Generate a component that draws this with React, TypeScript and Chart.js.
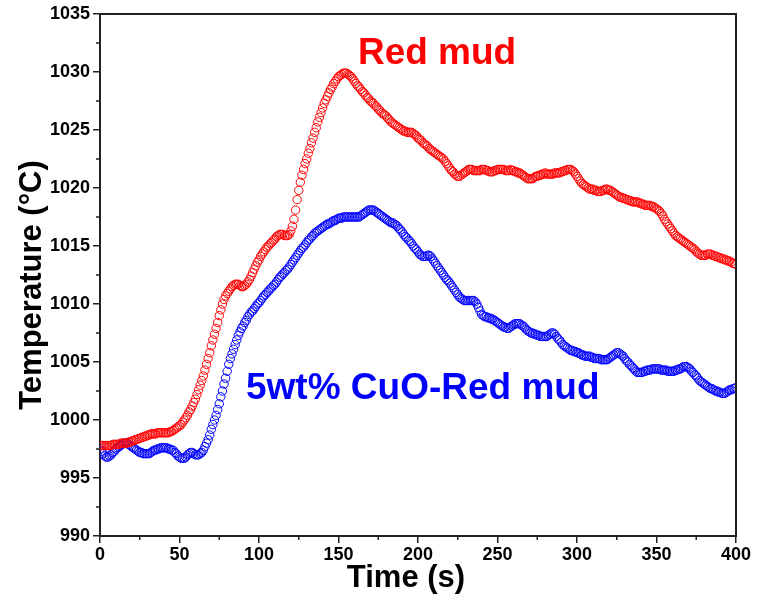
import React, { useEffect, useRef } from "react";
import { Chart, registerables } from "chart.js";

Chart.register(...registerables);

const TIME_S = [
  0, 1, 2, 3, 4, 5, 6, 7, 8, 9, 10, 11, 12, 13, 14, 15, 16, 17, 18, 19,
  20, 21, 22, 23, 24, 25, 26, 27, 28, 29, 30, 31, 32, 33, 34, 35, 36, 37, 38, 39,
  40, 41, 42, 43, 44, 45, 46, 47, 48, 49, 50, 51, 52, 53, 54, 55, 56, 57, 58, 59,
  60, 61, 62, 63, 64, 65, 66, 67, 68, 69, 70, 71, 72, 73, 74, 75, 76, 77, 78, 79,
  80, 81, 82, 83, 84, 85, 86, 87, 88, 89, 90, 91, 92, 93, 94, 95, 96, 97, 98, 99,
  100, 101, 102, 103, 104, 105, 106, 107, 108, 109, 110, 111, 112, 113, 114, 115, 116, 117, 118, 119,
  120, 121, 122, 123, 124, 125, 126, 127, 128, 129, 130, 131, 132, 133, 134, 135, 136, 137, 138, 139,
  140, 141, 142, 143, 144, 145, 146, 147, 148, 149, 150, 151, 152, 153, 154, 155, 156, 157, 158, 159,
  160, 161, 162, 163, 164, 165, 166, 167, 168, 169, 170, 171, 172, 173, 174, 175, 176, 177, 178, 179,
  180, 181, 182, 183, 184, 185, 186, 187, 188, 189, 190, 191, 192, 193, 194, 195, 196, 197, 198, 199,
  200, 201, 202, 203, 204, 205, 206, 207, 208, 209, 210, 211, 212, 213, 214, 215, 216, 217, 218, 219,
  220, 221, 222, 223, 224, 225, 226, 227, 228, 229, 230, 231, 232, 233, 234, 235, 236, 237, 238, 239,
  240, 241, 242, 243, 244, 245, 246, 247, 248, 249, 250, 251, 252, 253, 254, 255, 256, 257, 258, 259,
  260, 261, 262, 263, 264, 265, 266, 267, 268, 269, 270, 271, 272, 273, 274, 275, 276, 277, 278, 279,
  280, 281, 282, 283, 284, 285, 286, 287, 288, 289, 290, 291, 292, 293, 294, 295, 296, 297, 298, 299,
  300, 301, 302, 303, 304, 305, 306, 307, 308, 309, 310, 311, 312, 313, 314, 315, 316, 317, 318, 319,
  320, 321, 322, 323, 324, 325, 326, 327, 328, 329, 330, 331, 332, 333, 334, 335, 336, 337, 338, 339,
  340, 341, 342, 343, 344, 345, 346, 347, 348, 349, 350, 351, 352, 353, 354, 355, 356, 357, 358, 359,
  360, 361, 362, 363, 364, 365, 366, 367, 368, 369, 370, 371, 372, 373, 374, 375, 376, 377, 378, 379,
  380, 381, 382, 383, 384, 385, 386, 387, 388, 389, 390, 391, 392, 393, 394, 395, 396, 397, 398, 399,
  400,
];

const RED_MUD = [
  997.8, 997.8, 997.8, 997.8, 997.8, 997.8, 997.8, 997.8, 997.9, 997.9,
  997.9, 997.9, 997.9, 998.0, 998.0, 998.0, 998.0, 998.0, 998.1, 998.1,
  998.2, 998.2, 998.3, 998.3, 998.4, 998.4, 998.5, 998.5, 998.6, 998.6,
  998.7, 998.7, 998.8, 998.8, 998.8, 998.8, 998.9, 998.9, 998.9, 998.9,
  998.9, 998.9, 998.9, 998.9, 999.0, 999.0, 999.1, 999.2, 999.3, 999.4,
  999.5, 999.6, 999.8, 1000.0, 1000.2, 1000.4, 1000.7, 1000.9, 1001.2, 1001.5,
  1001.8, 1002.2, 1002.6, 1003.0, 1003.4, 1003.8, 1004.3, 1004.8, 1005.3, 1005.8,
  1006.4, 1006.9, 1007.4, 1007.9, 1008.4, 1009.0, 1009.5, 1010.0, 1010.4, 1010.7,
  1010.9, 1011.1, 1011.3, 1011.5, 1011.6, 1011.7, 1011.7, 1011.7, 1011.6, 1011.5,
  1011.5, 1011.6, 1011.7, 1011.9, 1012.1, 1012.4, 1012.7, 1013.0, 1013.3, 1013.6,
  1013.8, 1014.1, 1014.3, 1014.5, 1014.7, 1014.9, 1015.0, 1015.2, 1015.3, 1015.5,
  1015.6, 1015.8, 1015.9, 1016.0, 1016.0, 1016.0, 1015.9, 1015.9, 1015.9, 1016.0,
  1016.3, 1016.7, 1017.3, 1018.1, 1019.0, 1019.8, 1020.5, 1021.1, 1021.6, 1022.1,
  1022.5, 1023.0, 1023.4, 1023.9, 1024.3, 1024.8, 1025.2, 1025.7, 1026.1, 1026.5,
  1026.9, 1027.3, 1027.6, 1027.9, 1028.2, 1028.5, 1028.7, 1029.0, 1029.2, 1029.4,
  1029.6, 1029.7, 1029.8, 1029.9, 1029.9, 1029.9, 1029.8, 1029.7, 1029.6, 1029.4,
  1029.2, 1029.0, 1028.8, 1028.7, 1028.5, 1028.3, 1028.2, 1028.0, 1027.8, 1027.7,
  1027.5, 1027.4, 1027.3, 1027.1, 1027.0, 1026.8, 1026.7, 1026.5, 1026.4, 1026.3,
  1026.2, 1026.0, 1025.9, 1025.7, 1025.6, 1025.5, 1025.4, 1025.3, 1025.2, 1025.1,
  1025.0, 1024.9, 1024.9, 1024.8, 1024.8, 1024.8, 1024.8, 1024.7, 1024.6, 1024.5,
  1024.3, 1024.2, 1024.1, 1023.9, 1023.8, 1023.7, 1023.6, 1023.4, 1023.3, 1023.2,
  1023.1, 1023.0, 1022.9, 1022.8, 1022.7, 1022.6, 1022.5, 1022.3, 1022.1, 1021.9,
  1021.7, 1021.5, 1021.4, 1021.2, 1021.1, 1021.0, 1021.0, 1021.1, 1021.2, 1021.3,
  1021.4, 1021.5, 1021.6, 1021.6, 1021.6, 1021.5, 1021.5, 1021.5, 1021.5, 1021.5,
  1021.6, 1021.6, 1021.6, 1021.5, 1021.5, 1021.4, 1021.4, 1021.4, 1021.5, 1021.5,
  1021.6, 1021.6, 1021.6, 1021.6, 1021.6, 1021.5, 1021.5, 1021.5, 1021.6, 1021.5,
  1021.5, 1021.4, 1021.4, 1021.3, 1021.3, 1021.2, 1021.1, 1021.0, 1020.9, 1020.8,
  1020.8, 1020.8, 1020.8, 1020.9, 1021.0, 1021.0, 1021.1, 1021.1, 1021.2, 1021.2,
  1021.3, 1021.2, 1021.2, 1021.2, 1021.2, 1021.2, 1021.3, 1021.3, 1021.3, 1021.3,
  1021.4, 1021.4, 1021.5, 1021.5, 1021.6, 1021.6, 1021.6, 1021.5, 1021.4, 1021.2,
  1021.0, 1020.8, 1020.6, 1020.4, 1020.3, 1020.2, 1020.1, 1020.0, 1019.9, 1019.9,
  1019.9, 1019.8, 1019.8, 1019.7, 1019.7, 1019.7, 1019.8, 1019.8, 1019.9, 1019.9,
  1019.8, 1019.8, 1019.7, 1019.6, 1019.5, 1019.4, 1019.3, 1019.2, 1019.2, 1019.1,
  1019.1, 1019.0, 1019.0, 1018.9, 1018.9, 1018.8, 1018.8, 1018.8, 1018.8, 1018.7,
  1018.7, 1018.6, 1018.6, 1018.5, 1018.5, 1018.5, 1018.5, 1018.4, 1018.4, 1018.3,
  1018.2, 1018.1, 1018.0, 1017.8, 1017.6, 1017.3, 1017.1, 1016.9, 1016.7, 1016.5,
  1016.3, 1016.1, 1015.9, 1015.8, 1015.7, 1015.6, 1015.5, 1015.4, 1015.3, 1015.2,
  1015.1, 1015.0, 1014.9, 1014.8, 1014.7, 1014.5, 1014.4, 1014.3, 1014.2, 1014.2,
  1014.2, 1014.2, 1014.3, 1014.3, 1014.3, 1014.2, 1014.2, 1014.1, 1014.1, 1014.0,
  1014.0, 1013.9, 1013.9, 1013.8, 1013.8, 1013.7, 1013.7, 1013.6, 1013.5, 1013.5,
  1013.4,
];

const CUO_RED_MUD = [
  997.5, 997.3, 997.1, 996.9, 996.8, 996.8, 996.9, 997.0, 997.2, 997.3,
  997.5, 997.6, 997.7, 997.8, 997.9, 998.0, 998.0, 998.0, 997.9, 997.8,
  997.7, 997.6, 997.5, 997.4, 997.3, 997.2, 997.2, 997.1, 997.1, 997.1,
  997.1, 997.1, 997.2, 997.3, 997.4, 997.4, 997.5, 997.5, 997.6, 997.6,
  997.6, 997.6, 997.6, 997.5, 997.5, 997.4, 997.4, 997.2, 997.1, 996.9,
  996.8, 996.7, 996.7, 996.7, 996.8, 997.0, 997.1, 997.2, 997.2, 997.1,
  997.0, 997.0, 997.0, 997.1, 997.2, 997.4, 997.7, 998.0, 998.3, 998.7,
  999.2, 999.6, 1000.0, 1000.4, 1000.9, 1001.4, 1002.0, 1002.5, 1003.1, 1003.6,
  1004.2, 1004.8, 1005.3, 1005.7, 1006.1, 1006.5, 1006.9, 1007.3, 1007.6, 1007.9,
  1008.1, 1008.4, 1008.6, 1008.9, 1009.1, 1009.3, 1009.4, 1009.6, 1009.8, 1010.0,
  1010.1, 1010.3, 1010.5, 1010.7, 1010.8, 1011.0, 1011.1, 1011.3, 1011.4, 1011.6,
  1011.7, 1011.9, 1012.1, 1012.3, 1012.4, 1012.6, 1012.7, 1012.9, 1013.0, 1013.2,
  1013.4, 1013.6, 1013.8, 1014.0, 1014.2, 1014.4, 1014.6, 1014.8, 1014.9, 1015.1,
  1015.3, 1015.5, 1015.6, 1015.8, 1015.9, 1016.1, 1016.2, 1016.3, 1016.4, 1016.5,
  1016.6, 1016.7, 1016.8, 1016.9, 1016.9, 1017.0, 1017.1, 1017.2, 1017.2, 1017.3,
  1017.4, 1017.4, 1017.4, 1017.5, 1017.5, 1017.5, 1017.5, 1017.5, 1017.5, 1017.5,
  1017.5, 1017.5, 1017.5, 1017.5, 1017.6, 1017.7, 1017.8, 1017.9, 1018.0, 1018.1,
  1018.1, 1018.1, 1018.1, 1018.0, 1017.9, 1017.8, 1017.7, 1017.6, 1017.5, 1017.4,
  1017.3, 1017.2, 1017.1, 1017.0, 1017.0, 1016.9, 1016.8, 1016.7, 1016.5, 1016.4,
  1016.2, 1016.0, 1015.8, 1015.7, 1015.5, 1015.4, 1015.2, 1015.0, 1014.8, 1014.7,
  1014.5, 1014.3, 1014.2, 1014.1, 1014.1, 1014.1, 1014.2, 1014.2, 1014.1, 1013.9,
  1013.7, 1013.5, 1013.3, 1013.1, 1012.9, 1012.7, 1012.5, 1012.3, 1012.1, 1012.0,
  1011.8, 1011.6, 1011.4, 1011.2, 1011.0, 1010.8, 1010.6, 1010.5, 1010.4, 1010.3,
  1010.3, 1010.3, 1010.3, 1010.3, 1010.3, 1010.3, 1010.2, 1010.0, 1009.7, 1009.4,
  1009.1, 1009.0, 1008.9, 1008.9, 1008.8, 1008.8, 1008.7, 1008.7, 1008.6, 1008.5,
  1008.4, 1008.3, 1008.2, 1008.1, 1008.0, 1008.0, 1007.9, 1007.9, 1008.0, 1008.1,
  1008.2, 1008.3, 1008.3, 1008.3, 1008.3, 1008.2, 1008.1, 1008.0, 1007.8, 1007.7,
  1007.6, 1007.5, 1007.5, 1007.4, 1007.4, 1007.3, 1007.3, 1007.2, 1007.2, 1007.2,
  1007.2, 1007.2, 1007.3, 1007.4, 1007.5, 1007.5, 1007.4, 1007.2, 1007.0, 1006.9,
  1006.7, 1006.5, 1006.4, 1006.3, 1006.2, 1006.1, 1006.0, 1006.0, 1005.9, 1005.9,
  1005.8, 1005.8, 1005.7, 1005.6, 1005.6, 1005.5, 1005.5, 1005.5, 1005.5, 1005.4,
  1005.4, 1005.3, 1005.3, 1005.3, 1005.3, 1005.2, 1005.2, 1005.2, 1005.2, 1005.2,
  1005.3, 1005.4, 1005.5, 1005.6, 1005.7, 1005.8, 1005.8, 1005.7, 1005.6, 1005.5,
  1005.3, 1005.1, 1005.0, 1004.8, 1004.7, 1004.5, 1004.4, 1004.2, 1004.1, 1004.1,
  1004.1, 1004.1, 1004.2, 1004.2, 1004.3, 1004.3, 1004.3, 1004.4, 1004.4, 1004.4,
  1004.4, 1004.4, 1004.4, 1004.3, 1004.3, 1004.3, 1004.3, 1004.2, 1004.2, 1004.2,
  1004.2, 1004.2, 1004.3, 1004.3, 1004.4, 1004.4, 1004.5, 1004.6, 1004.6, 1004.6,
  1004.5, 1004.4, 1004.2, 1004.1, 1003.9, 1003.8, 1003.6, 1003.4, 1003.3, 1003.2,
  1003.1, 1003.0, 1002.9, 1002.8, 1002.7, 1002.7, 1002.6, 1002.5, 1002.5, 1002.4,
  1002.4, 1002.3, 1002.3, 1002.3, 1002.4, 1002.5, 1002.6, 1002.6, 1002.7, 1002.7,
  1002.8,
];

const SERIES_NAMES = ["Red mud", "5wt% CuO-Red mud"];
const X_TITLE = "Time (s)";
const Y_TITLE = "Temperature (°C)";

const RED = "#ff0000";
const BLUE = "#0000ff";
const AXIS = "#222222";
const FONT = '"Liberation Sans", Arial, sans-serif';

const framePlugin = {
  id: "frameAndLabels",
  afterDraw(chart: any) {
    const { ctx, chartArea, scales } = chart;
    const { left, right, top, bottom } = chartArea;
    const xs = scales.x;
    const ys = scales.y;
    ctx.save();
    ctx.strokeStyle = AXIS;
    ctx.lineWidth = 2;
    ctx.beginPath();
    ctx.moveTo(left - 1, top);
    ctx.lineTo(right, top);
    ctx.lineTo(right, bottom + 1);
    ctx.stroke();

    // minor ticks halfway between major ticks
    ctx.lineWidth = 1.5;
    ctx.beginPath();
    const xt = xs.ticks.map((t: any) => t.value);
    for (let i = 0; i < xt.length - 1; i++) {
      const px = xs.getPixelForValue((xt[i] + xt[i + 1]) / 2);
      ctx.moveTo(px, bottom);
      ctx.lineTo(px, bottom + 4);
    }
    const yt = ys.ticks.map((t: any) => t.value);
    for (let i = 0; i < yt.length - 1; i++) {
      const py = ys.getPixelForValue((yt[i] + yt[i + 1]) / 2);
      ctx.moveTo(left, py);
      ctx.lineTo(left - 4, py);
    }
    ctx.stroke();

    // axis titles
    ctx.fillStyle = "#000";
    ctx.font = `bold 31px ${FONT}`;
    ctx.textAlign = "center";
    ctx.textBaseline = "middle";
    ctx.fillText(X_TITLE, 406, 578);
    ctx.save();
    ctx.translate(32, 285);
    ctx.rotate(-Math.PI / 2);
    ctx.fillText(Y_TITLE, 0, 0);
    ctx.restore();

    // series annotations
    ctx.font = `bold 37px ${FONT}`;
    ctx.fillStyle = RED;
    ctx.fillText(SERIES_NAMES[0], xs.getPixelForValue(212), ys.getPixelForValue(1031.6));
    ctx.fillStyle = BLUE;
    ctx.fillText(SERIES_NAMES[1], xs.getPixelForValue(203), ys.getPixelForValue(1002.7));
    ctx.restore();
  },
};

export default function App() {
  const canvasRef = useRef<HTMLCanvasElement | null>(null);

  useEffect(() => {
    document.body.style.margin = "0";
    const canvas = canvasRef.current;
    if (!canvas) return;
    const pointStyle = (color: string) => ({
      showLine: false,
      pointStyle: "circle" as const,
      pointRadius: 4.2,
      pointBorderWidth: 1,
      pointBorderColor: color,
      pointBackgroundColor: "rgba(0,0,0,0)",
      borderColor: color,
    });
    const chart = new Chart(canvas, {
      type: "line",
      data: {
        datasets: [
          {
            label: SERIES_NAMES[0],
            data: TIME_S.map((t, i) => ({ x: t, y: RED_MUD[i] })),
            ...pointStyle(RED),
          },
          {
            label: SERIES_NAMES[1],
            data: TIME_S.map((t, i) => ({ x: t, y: CUO_RED_MUD[i] })),
            ...pointStyle(BLUE),
          },
        ],
      },
      options: {
        responsive: true,
        maintainAspectRatio: false,
        animation: false,
        layout: { padding: { left: 0, top: 14, right: 27, bottom: 0 } },
        plugins: {
          legend: { display: false },
          tooltip: { enabled: false },
        },
        scales: {
          x: {
            type: "linear",
            min: 0,
            max: 400,
            ticks: {
              stepSize: 50,
              color: "#000",
              font: { family: FONT, size: 18, weight: "bold" },
              padding: 1,
              maxRotation: 0,
              callback: (v: any) => String(v),
            },
            grid: {
              drawOnChartArea: false,
              drawTicks: true,
              tickLength: 7,
              color: AXIS,
              lineWidth: 1.5,
            },
            border: { display: true, color: AXIS, width: 2 },
            title: { display: false },
            afterFit: (s: any) => {
              s.height = 61;
            },
          },
          y: {
            type: "linear",
            min: 990,
            max: 1035,
            ticks: {
              stepSize: 5,
              color: "#000",
              font: { family: FONT, size: 18, weight: "bold" },
              padding: 3,
              callback: (v: any) => String(v),
            },
            grid: {
              drawOnChartArea: false,
              drawTicks: true,
              tickLength: 7,
              color: AXIS,
              lineWidth: 1.5,
            },
            border: { display: true, color: AXIS, width: 2 },
            title: { display: false },
            afterFit: (s: any) => {
              s.width = 100;
            },
          },
        },
      },
      plugins: [framePlugin],
    });
    return () => chart.destroy();
  }, []);

  return (
    <div style={{ position: "relative", width: 763, height: 597 }}>
      <canvas ref={canvasRef} />
    </div>
  );
}
